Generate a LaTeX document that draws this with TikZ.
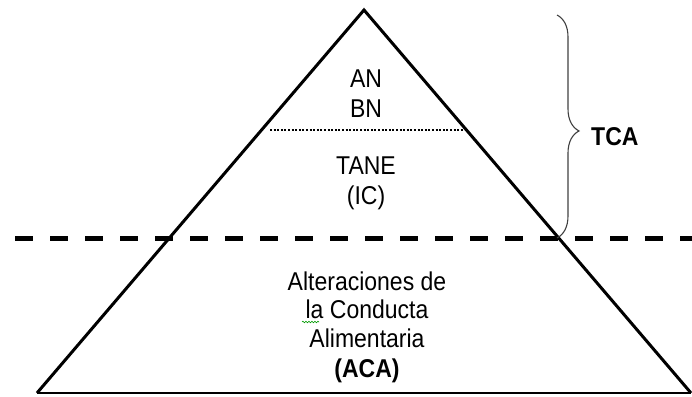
\documentclass[tikz,border=0pt]{standalone}
\usepackage{fontspec}
\setmainfont{Liberation Sans}
\usetikzlibrary{decorations.pathreplacing,decorations.pathmorphing}
\newcommand{\tallt}[1]{\scalebox{1}[1.12]{#1}}
\begin{document}
\begin{tikzpicture}[x=1pt,y=-1pt,
  edge/.style={line width=3pt,line join=miter},
  divider/.style={line width=5pt,dash pattern=on 18pt off 17pt},
  dotline/.style={line width=2pt,dash pattern=on 2pt off 1.6pt},
  lbl/.style={anchor=base,inner sep=0pt,font=\fontsize{23}{29}\selectfont},
  blbl/.style={lbl,font=\fontsize{23}{29}\selectfont\bfseries}]
\useasboundingbox (0,0) rectangle (692,396);
\coordinate (apex) at (364,10);
\coordinate (bl) at (37,393);
\coordinate (br) at (691,393);
\draw[edge] (bl) -- (apex) -- (br);
\draw[line width=2.2pt] (bl) -- (br);
% dotted separator
\coordinate (d1) at (270,130);
\coordinate (d2) at (464,130);
\draw[dotline] (d1) -- (d2);
% dashed divider
\coordinate (h1) at (15,238);
\coordinate (h2) at (692,238);
\draw[divider] (h1) -- (h2);
% brace
\coordinate (b1) at (557,15);
\coordinate (b2) at (557,238);
\draw[line width=1.1pt,black!75,decorate,decoration={brace,amplitude=22pt,aspect=0.52}] (b1) -- (b2);
% labels
\node[lbl] (an) at (366,87) {\tallt{AN}};
\node[lbl] (bn) at (366,117) {\tallt{BN}};
\node[lbl] (tane) at (366,174) {\tallt{TANE}};
\node[lbl] (ic) at (366,204) {\tallt{(IC)}};
\node[lbl] (alt) at (367,290) {\tallt{Alteraciones de}};
\node[lbl] (cond) at (367,318) {\tallt{la Conducta}};
\node[lbl] (alim) at (367,347) {\tallt{Alimentaria}};
\node[blbl] (aca) at (367,377) {\tallt{(ACA)}};
\node[blbl,anchor=base west] (tca) at (591,145) {\tallt{TCA}};
% spell-check squiggle
\coordinate (s1) at (302,322);
\coordinate (s2) at (319,322);
\draw[green!60!black,line width=0.6pt,decorate,decoration={snake,segment length=3pt,amplitude=0.8pt}] (s1) -- (s2);
\end{tikzpicture}
\end{document}
